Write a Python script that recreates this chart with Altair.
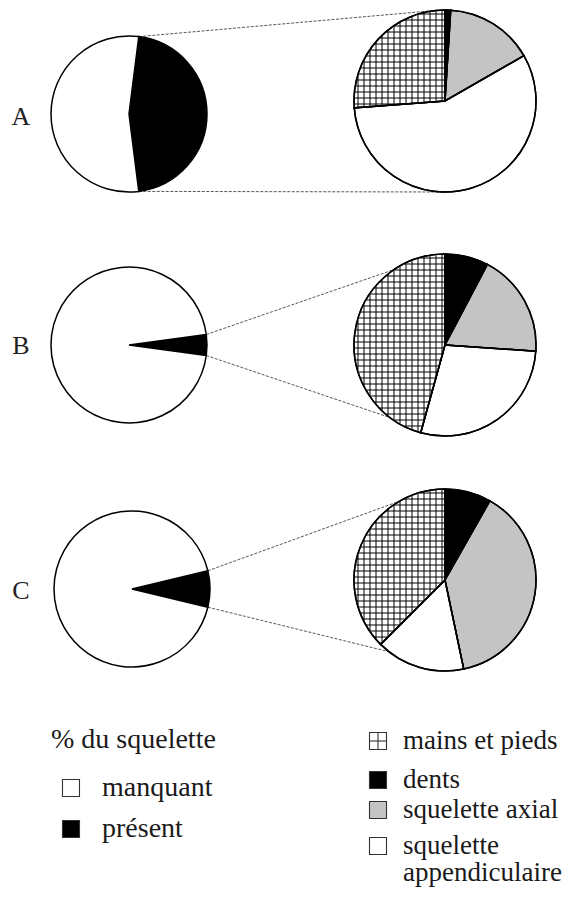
import math
import altair as alt
import pandas as pd

# ---------------- data ----------------
rows = ["A", "B", "C"]
# % du squelette présent (left pies)
present = [46.0, 4.3, 7.5]
# composition of the present part (right pies), clockwise from 12 o'clock
cat_names = ["dents", "squelette axial", "squelette appendiculaire", "mains et pieds"]
dents = [1.0, 7.7, 8.2]
axial = [15.7, 18.4, 38.5]
appendiculaire = [57.1, 28.2, 15.8]
mains_pieds = [26.2, 45.7, 37.5]

left_legend_title = "% du squelette"
left_legend = ["manquant", "présent"]
right_legend = ["mains et pieds", "dents", "squelette axial", "squelette\nappendiculaire"]

# ---------------- layout (page pixel units) ----------------
SMALL_CX = [129, 129, 132]
SMALL_CY = [114, 345, 589]
SMALL_R = 78
BIG_CX = [445, 445, 445]
BIG_CY = [101, 345, 580]
BIG_R = 91
LINK_TOP_DEG = [355, 326, 330]
LINK_BOT_DEG = [180, 217, 218]
ROW_LABEL_X = 21
HATCH_STEP = 6.0
FONT = "Liberation Serif"
FS_ROW = 26
FS = 28
FS_R = 27

W, H = 557, 883
xs = alt.Scale(domain=[8, 8 + W], range=[0, W])
ys = alt.Scale(domain=[8, 8 + H], range=[0, H])
ts = alt.Scale(type="linear", domain=[0, 100], range=[0, 2 * math.pi])

fill_domain = ["manquant", "présent", "mains et pieds", "dents",
               "squelette axial", "squelette appendiculaire"]
fill_range = ["#ffffff", "#000000", "#ffffff", "#000000", "#c4c4c4", "#ffffff"]
fs = alt.Scale(domain=fill_domain, range=fill_range)


def pt(cx, cy, r, deg):
    a = math.radians(deg)
    return cx + r * math.sin(a), cy - r * math.cos(a)


# ---- small pies ----
small_rows = []
for i, r in enumerate(rows):
    p = present[i]
    small_rows.append(dict(row=r, part="présent", t0=25 - p / 2, t1=25 + p / 2,
                           cx=SMALL_CX[i], cy=SMALL_CY[i]))
    small_rows.append(dict(row=r, part="manquant", t0=25 + p / 2, t1=125 - p / 2,
                           cx=SMALL_CX[i], cy=SMALL_CY[i]))
small_df = pd.DataFrame(small_rows)

# ---- big pies ----
big_rows = []
mains_sectors = []
for i, r in enumerate(rows):
    vals = [dents[i], axial[i], appendiculaire[i], mains_pieds[i]]
    tot = sum(vals)
    acc = 0.0
    for name, v in zip(cat_names, vals):
        v = v * 100 / tot
        big_rows.append(dict(row=r, part=name, t0=acc, t1=acc + v,
                             cx=BIG_CX[i], cy=BIG_CY[i]))
        if name == "mains et pieds":
            mains_sectors.append((BIG_CX[i], BIG_CY[i], acc * 3.6, (acc + v) * 3.6))
        acc += v
big_df = pd.DataFrame(big_rows)


# ---- hatch (grid) lines clipped to the "mains et pieds" sectors ----
def cross(a, b):
    return a[0] * b[1] - a[1] * b[0]


def clip(p0, p1, c, r, a0, a1):
    d = (p1[0] - p0[0], p1[1] - p0[1])
    f = (p0[0] - c[0], p0[1] - c[1])
    A = d[0] ** 2 + d[1] ** 2
    B = 2 * (f[0] * d[0] + f[1] * d[1])
    C = f[0] ** 2 + f[1] ** 2 - r * r
    disc = B * B - 4 * A * C
    if disc <= 0:
        return None
    s = math.sqrt(disc)
    lo = max(0.0, (-B - s) / (2 * A))
    hi = min(1.0, (-B + s) / (2 * A))
    u0 = (math.sin(math.radians(a0)), -math.cos(math.radians(a0)))
    u1 = (math.sin(math.radians(a1)), -math.cos(math.radians(a1)))
    for u, sg in ((u0, 1), (u1, -1)):
        g0 = sg * cross(u, f)
        g1 = sg * cross(u, d)
        if abs(g1) < 1e-12:
            if g0 < 0:
                return None
        else:
            t = -g0 / g1
            if g1 > 0:
                lo = max(lo, t)
            else:
                hi = min(hi, t)
    if lo >= hi:
        return None
    return (p0[0] + lo * d[0], p0[1] + lo * d[1], p0[0] + hi * d[0], p0[1] + hi * d[1])


hatch = []
for (cx, cy, a0, a1) in mains_sectors:
    R = BIG_R - 0.5
    n = int(R / HATCH_STEP) + 2
    for k in range(-n, n + 1):
        x = cx + k * HATCH_STEP + HATCH_STEP / 2
        seg = clip((x, cy - R - 2), (x, cy + R + 2), (cx, cy), R, a0, a1)
        if seg:
            hatch.append(dict(x=seg[0], y=seg[1], x2=seg[2], y2=seg[3]))
        y = cy + k * HATCH_STEP + HATCH_STEP / 2
        seg = clip((cx - R - 2, y), (cx + R + 2, y), (cx, cy), R, a0, a1)
        if seg:
            hatch.append(dict(x=seg[0], y=seg[1], x2=seg[2], y2=seg[3]))
hatch_df = pd.DataFrame(hatch)

# ---- connector lines ----
links = []
for i in range(len(rows)):
    p = present[i]
    s0 = pt(SMALL_CX[i], SMALL_CY[i], SMALL_R, (25 - p / 2) * 3.6)
    s1 = pt(SMALL_CX[i], SMALL_CY[i], SMALL_R, (25 + p / 2) * 3.6)
    e0 = pt(BIG_CX[i], BIG_CY[i], BIG_R, LINK_TOP_DEG[i])
    e1 = pt(BIG_CX[i], BIG_CY[i], BIG_R, LINK_BOT_DEG[i])
    links.append(dict(x=s0[0], y=s0[1], x2=e0[0], y2=e0[1]))
    links.append(dict(x=s1[0], y=s1[1], x2=e1[0], y2=e1[1]))
links_df = pd.DataFrame(links)

# ---- row labels ----
lab_df = pd.DataFrame(dict(label=rows, x=[ROW_LABEL_X] * 3,
                           y=[SMALL_CY[0] + 3, SMALL_CY[1] + 1, SMALL_CY[2] + 2]))

# ---- legend ----
L_SQ_X, L_TXT_X, L_Y = 71, 102, [788, 829]
R_SQ_X, R_TXT_X, R_Y = 378, 403, [741, 780, 810, 846]
LINE_H = 27
SQ = 17

leg_sq = []
leg_txt = [dict(text=left_legend_title, x=51, y=740, fs=FS)]
for lab, y in zip(left_legend, L_Y):
    leg_sq.append(dict(part=lab, x=L_SQ_X - SQ / 2, x2=L_SQ_X + SQ / 2, y=y - SQ / 2, y2=y + SQ / 2))
    leg_txt.append(dict(text=lab, x=L_TXT_X, y=y, fs=FS))
right_parts = ["mains et pieds", "dents", "squelette axial", "squelette appendiculaire"]
for lab, part, y in zip(right_legend, right_parts, R_Y):
    leg_sq.append(dict(part=part, x=R_SQ_X - SQ / 2, x2=R_SQ_X + SQ / 2, y=y - SQ / 2, y2=y + SQ / 2))
    for j, line in enumerate(lab.split("\n")):
        leg_txt.append(dict(text=line, x=R_TXT_X, y=y + j * LINE_H, fs=FS_R))
leg_sq_df = pd.DataFrame(leg_sq)
leg_txt_df = pd.DataFrame(leg_txt)
hy = R_Y[0]
leg_cross_df = pd.DataFrame([
    dict(x=R_SQ_X, y=hy - SQ / 2, x2=R_SQ_X, y2=hy + SQ / 2),
    dict(x=R_SQ_X - SQ / 2, y=hy, x2=R_SQ_X + SQ / 2, y2=hy),
])

# ---------------- chart ----------------
X = lambda f: alt.X(f, scale=xs, axis=None)
Y = lambda f: alt.Y(f, scale=ys, axis=None)

links_layer = alt.Chart(links_df).mark_rule(
    stroke="#444444", strokeWidth=0.9, strokeDash=[3, 1.5]
).encode(x=X("x:Q"), y=Y("y:Q"), x2="x2:Q", y2="y2:Q")

small_layer = alt.Chart(small_df).mark_arc(
    radius=SMALL_R, stroke="#000000", strokeWidth=1.5
).encode(
    x=X("cx:Q"), y=Y("cy:Q"),
    theta=alt.Theta("t0:Q", scale=ts, stack=None), theta2="t1:Q",
    color=alt.Color("part:N", scale=fs, legend=None),
)

big_layer = alt.Chart(big_df).mark_arc(
    radius=BIG_R, stroke="#000000", strokeWidth=1.5
).encode(
    x=X("cx:Q"), y=Y("cy:Q"),
    theta=alt.Theta("t0:Q", scale=ts, stack=None), theta2="t1:Q",
    color=alt.Color("part:N", scale=fs, legend=None),
)

hatch_layer = alt.Chart(hatch_df).mark_rule(
    stroke="#000000", strokeWidth=1.0
).encode(x=X("x:Q"), y=Y("y:Q"), x2="x2:Q", y2="y2:Q")

big_outline = alt.Chart(big_df).mark_arc(
    radius=BIG_R, stroke="#000000", strokeWidth=1.5, fillOpacity=0
).encode(
    x=X("cx:Q"), y=Y("cy:Q"),
    theta=alt.Theta("t0:Q", scale=ts, stack=None), theta2="t1:Q",
)

row_labels = alt.Chart(lab_df).mark_text(
    font=FONT, fontSize=FS_ROW, align="center", baseline="middle", color="#222222"
).encode(x=X("x:Q"), y=Y("y:Q"), text="label:N")

leg_squares = alt.Chart(leg_sq_df).mark_rect(
    stroke="#333333", strokeWidth=1.1
).encode(x=X("x:Q"), x2="x2:Q", y=Y("y:Q"), y2="y2:Q",
         color=alt.Color("part:N", scale=fs, legend=None))

leg_cross = alt.Chart(leg_cross_df).mark_rule(
    stroke="#333333", strokeWidth=1.1
).encode(x=X("x:Q"), y=Y("y:Q"), x2="x2:Q", y2="y2:Q")

leg_text = alt.Chart(leg_txt_df).mark_text(
    font=FONT, align="left", baseline="middle", color="#1a1a1a"
).encode(x=X("x:Q"), y=Y("y:Q"), text="text:N",
         size=alt.Size("fs:Q", scale=None, legend=None))

chart = alt.layer(
    links_layer, small_layer, big_layer, hatch_layer, big_outline,
    row_labels, leg_squares, leg_cross, leg_text,
).properties(
    width=W, height=H, padding=0,
    autosize=alt.AutoSizeParams(type="none"),
    background="#ffffff",
).configure_view(stroke=None)

chart.save("out.html", embed_options={"renderer": "svg", "actions": False})
